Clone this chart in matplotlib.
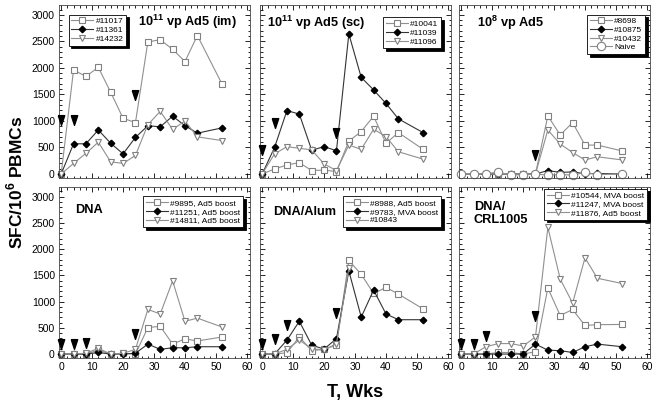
import numpy as np
import matplotlib.pyplot as plt
from matplotlib.ticker import MultipleLocator
from matplotlib.path import Path

plt.rcParams['font.family'] = ['Liberation Sans', 'DejaVu Sans']
plt.rcParams['mathtext.fontset'] = 'custom'
plt.rcParams['mathtext.rm'] = 'Liberation Sans'
plt.rcParams['mathtext.bf'] = 'Liberation Sans:bold'

weeks = [0, 4, 8, 12, 16, 20, 24, 28, 32, 36, 40, 44, 52]

# 10^11 vp Ad5 (im)
im_11017 = [0, 1960, 1840, 2010, 1540, 1050, 970, 2490, 2530, 2350, 2120, 2610, 1690]
im_11361 = [0, 570, 570, 830, 580, 380, 690, 910, 890, 1090, 910, 770, 870]
im_14232 = [0, 200, 390, 600, 230, 200, 350, 930, 1180, 840, 1000, 700, 630]
im_arrow_x = [0, 4, 24]
im_arrow_y = [1020, 1020, 1490]

# 10^11 vp Ad5 (sc)
sc_10041 = [0, 95, 170, 215, 65, 75, 45, 620, 800, 1090, 580, 780, 465]
sc_11039 = [0, 500, 1195, 1130, 450, 515, 440, 2640, 1820, 1585, 1330, 1040, 780]
sc_11096 = [0, 380, 515, 485, 455, 190, 65, 545, 465, 845, 705, 420, 280]
sc_arrow_x = [0, 4, 24]
sc_arrow_y = [450, 960, 780]

# 10^8 vp Ad5
lo_8698 = [0, 0, 0, 0, 0, 0, 0, 1095, 735, 970, 545, 545, 435]
lo_10875 = [0, 0, 0, 0, 0, 0, 0, 65, 30, 40, 5, 10, 0]
lo_10432 = [0, 0, 0, 0, 0, 0, 0, 830, 565, 405, 265, 325, 265]
lo_naive = [0, 5, 5, 35, -20, -10, 0, -20, -10, -20, 30, -10, 0]
lo_arrow_x = [24]
lo_arrow_y = [360]

# DNA
dna_9895 = [0, 0, 0, 75, 0, 15, 0, 505, 530, 190, 290, 250, 325]
dna_11251 = [0, 0, 0, 30, 0, 0, 15, 190, 90, 120, 120, 140, 140]
dna_14811 = [0, 0, 15, 110, 0, 15, 90, 850, 765, 1395, 625, 685, 515]
dna_arrow_x = [0, 4, 8, 24]
dna_arrow_y = [190, 190, 215, 375]

# DNA/Alum
alum_8988 = [0, 0, 25, 325, 65, 90, 170, 1785, 1520, 1155, 1270, 1145, 860]
alum_9783 = [0, 0, 265, 625, 170, 95, 295, 1585, 705, 1220, 765, 655, 655]
alum_10843 = [0, 0, 90, 265, 105, 75, 200, 1640]
alum_arrow_x = [0, 4, 8, 24]
alum_arrow_y = [200, 295, 560, 780]

# DNA/CRL1005
crl_10544 = [0, 0, 0, 30, 30, 0, 45, 1260, 735, 850, 545, 560, 565]
crl_11247 = [0, 0, 0, 0, 0, 0, 190, 75, 65, 30, 140, 190, 140]
crl_11876 = [0, 0, 140, 200, 200, 155, 325, 2415, 1430, 970, 1835, 1445, 1345]
crl_arrow_x = [0, 4, 8, 24]
crl_arrow_y = [190, 190, 340, 725]

arrow_marker = Path([(-0.33, 0.5), (0.33, 0.5), (0, -0.5), (-0.33, 0.5)])

sq = dict(marker='s', ms=5, mfc='white', mec='#808080', color='#909090', lw=0.8, mew=0.8)
dm = dict(marker='D', ms=3.3, mfc='black', mec='black', color='#333333', lw=0.8)
tr = dict(marker='v', ms=5, mfc='white', mec='#808080', color='#909090', lw=0.8, mew=0.8)
ci = dict(marker='o', ms=6, mfc='white', mec='#808080', color='#909090', lw=0.8, mew=0.8)

fig = plt.figure(figsize=(6.6, 4.09), dpi=100)
W, H = 660.0, 409.0
col_left = [59, 260, 459]
col_w = 191
rows = [(5, 178), (187, 358)]

panels = [
    dict(series=[(im_11017, '#11017', sq), (im_11361, '#11361', dm), (im_14232, '#14232', tr)],
         arrows=(im_arrow_x, im_arrow_y), title=r'10$^{\mathbf{11}}$ vp Ad5 (im)',
         tpos=(0.675, 0.90, 'center'), leg=('upper left', (0.05, 0.945))),
    dict(series=[(sc_10041, '#10041', sq), (sc_11039, '#11039', dm), (sc_11096, '#11096', tr)],
         arrows=(sc_arrow_x, sc_arrow_y), title=r'10$^{\mathbf{11}}$ vp Ad5 (sc)',
         tpos=(0.035, 0.895, 'left'), leg=('upper right', (0.95, 0.928))),
    dict(series=[(lo_8698, '#8698', sq), (lo_10875, '#10875', dm), (lo_10432, '#10432', tr),
                 (lo_naive, 'Naive', ci)],
         arrows=(lo_arrow_x, lo_arrow_y), title=r'10$^{\mathbf{8}}$ vp Ad5',
         tpos=(0.094, 0.895, 'left'), leg=('upper right', (0.975, 0.945))),
    dict(series=[(dna_9895, '#9895, Ad5 boost', sq), (dna_11251, '#11251, Ad5 boost', dm),
                 (dna_14811, '#14811, Ad5 boost', tr)],
         arrows=(dna_arrow_x, dna_arrow_y), title='DNA',
         tpos=(0.084, 0.865, 'left'), leg=('upper right', (0.965, 0.945))),
    dict(series=[(alum_8988, '#8988, Ad5 boost', sq), (alum_9783, '#9783, MVA boost', dm),
                 (alum_10843, '#10843', tr)],
         arrows=(alum_arrow_x, alum_arrow_y), title='DNA/Alum',
         tpos=(0.068, 0.855, 'left'), leg=('upper right', (0.95, 0.945))),
    dict(series=[(crl_10544, '#10544, MVA boost', sq), (crl_11247, '#11247, MVA boost', dm),
                 (crl_11876, '#11876, Ad5 boost', tr)],
         arrows=(crl_arrow_x, crl_arrow_y), title='DNA/\nCRL1005',
         tpos=(0.078, 0.845, 'left'), leg=('upper right', (0.985, 0.99))),
]

for k, p in enumerate(panels):
    r, c = divmod(k, 3)
    top, bot = rows[r]
    ax = fig.add_axes([col_left[c] / W, 1 - bot / H, col_w / W, (bot - top) / H])
    for vals, lab, st in p['series']:
        ax.plot(weeks[:len(vals)], vals, label=lab, clip_on=False, **st)
    ax.plot(p['arrows'][0], p['arrows'][1], ls='none', marker=arrow_marker, ms=7,
            color='black', zorder=5, clip_on=False)
    ax.set_xlim(-0.7, 61)
    ax.set_ylim(-75, 3185)
    ax.xaxis.set_major_locator(MultipleLocator(10))
    ax.xaxis.set_minor_locator(MultipleLocator(2))
    ax.yaxis.set_major_locator(MultipleLocator(500))
    ax.yaxis.set_minor_locator(MultipleLocator(100))
    ax.tick_params(which='both', direction='in', top=True, right=True, labelsize=7.5,
                   width=0.6, pad=3)
    ax.tick_params(which='major', length=3.5)
    ax.tick_params(which='minor', length=1.8)
    ax.tick_params(labelbottom=(r == 1), labelleft=(c == 0))
    for s in ax.spines.values():
        s.set_linewidth(0.6)
        s.set_color('#444444')
    tx, ty, ha = p['tpos']
    ax.text(tx, ty, p['title'], transform=ax.transAxes, ha=ha, va='center',
            fontsize=9.2, fontweight='bold', linespacing=1.2)
    leg = ax.legend(loc=p['leg'][0], bbox_to_anchor=p['leg'][1], borderaxespad=0,
                    fontsize=6, frameon=True, fancybox=False, edgecolor='black',
                    shadow={'color': 'black', 'alpha': 1}, handlelength=2.6,
                    handletextpad=0.3, labelspacing=0.1, borderpad=0.35)
    leg.get_frame().set_linewidth(0.6)
    leg.set_zorder(10)

fig.text(0.023, 0.555, r'SFC/10$^{\mathbf{6}}$ PBMCs', rotation=90, ha='center',
         va='center', fontsize=12.5, fontweight='bold')
fig.text(0.538, 0.04, 'T, Wks', ha='center', va='center', fontsize=13, fontweight='bold')

fig.savefig('out.png', dpi=100)
